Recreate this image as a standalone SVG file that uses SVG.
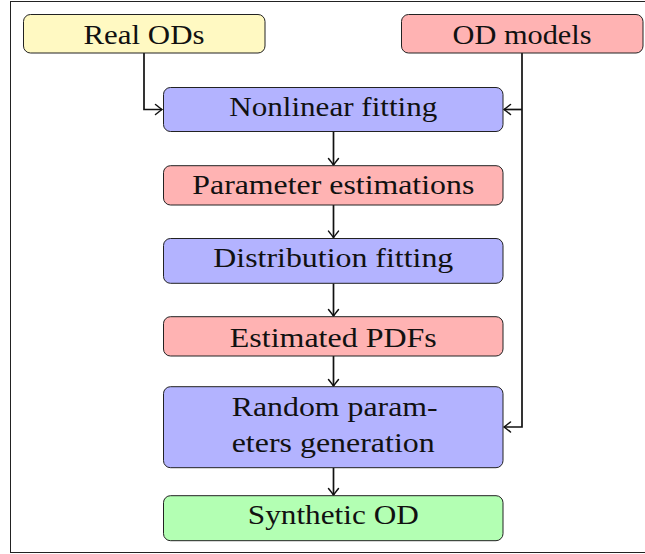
<svg xmlns="http://www.w3.org/2000/svg" width="645" height="554" viewBox="0 0 645 554">
<style>
.box{stroke:#222;stroke-width:1}
.y{fill:#FFF9C2}.r{fill:#FFB3B3}.b{fill:#B3B3FF}.g{fill:#B3FFB3}
.t{fill:#111;font-family:"Liberation Serif","Times New Roman","DejaVu Serif",serif;font-size:27px}
.c{text-anchor:middle}
.con path{fill:none;stroke:#111;stroke-width:1.7}
</style>
<defs>
<marker id="ah" markerUnits="userSpaceOnUse" markerWidth="14" markerHeight="14" viewBox="-8 -7 10 14" refX="0" refY="0" orient="auto">
<path d="M -6.5,-5 Q -1.5,-1 0,0 Q -1.5,1 -6.5,5" fill="none" stroke="#111" stroke-width="1.5" stroke-linecap="round"/>
</marker>
</defs>
<rect x="10.5" y="1.5" width="645" height="551" fill="#fff" stroke="#222" stroke-width="1"/>
<g class="con">
<path d="M144,53 V109.5 H162" marker-end="url(#ah)"/>
<path d="M522,53 V427 H504" marker-end="url(#ah)"/>
<path d="M522,109.5 H504" marker-end="url(#ah)"/>
<path d="M333.5,131.7 V165" marker-end="url(#ah)"/>
<path d="M333.5,205 V237.6" marker-end="url(#ah)"/>
<path d="M333.5,283.3 V316" marker-end="url(#ah)"/>
<path d="M333.5,356 V386" marker-end="url(#ah)"/>
<path d="M333.5,467.7 V495" marker-end="url(#ah)"/>
</g>
<g id="real-ods"><rect class="box y" x="23.5" y="14.5" width="241.5" height="38.5" rx="7"/><text class="t c" x="144" y="44.3" textLength="121" lengthAdjust="spacingAndGlyphs">Real ODs</text></g>
<g id="od-models"><rect class="box r" x="401.5" y="14.5" width="241.5" height="38.5" rx="7"/><text class="t c" x="522" y="44.3" textLength="139" lengthAdjust="spacingAndGlyphs">OD models</text></g>
<g id="nonlinear"><rect class="box b" x="163.5" y="87.5" width="339.5" height="44" rx="7"/><text class="t c" x="333.3" y="116.3" textLength="208" lengthAdjust="spacingAndGlyphs">Nonlinear fitting</text></g>
<g id="param-est"><rect class="box r" x="163.5" y="165.7" width="339.5" height="39.3" rx="7"/><text class="t c" x="333.3" y="194.3" textLength="282" lengthAdjust="spacingAndGlyphs">Parameter estimations</text></g>
<g id="dist-fit"><rect class="box b" x="163.5" y="238.5" width="339.5" height="44.8" rx="7"/><text class="t c" x="333.3" y="267.3" textLength="240" lengthAdjust="spacingAndGlyphs">Distribution fitting</text></g>
<g id="est-pdfs"><rect class="box r" x="163.5" y="316.7" width="339.5" height="39.3" rx="7"/><text class="t c" x="333.3" y="346.7" textLength="207" lengthAdjust="spacingAndGlyphs">Estimated PDFs</text></g>
<g id="random-gen"><rect class="box b" x="163.5" y="386.7" width="339.5" height="81" rx="7"/><text class="t" x="231.7" y="415.7" textLength="206" lengthAdjust="spacingAndGlyphs">Random param-</text><text class="t" x="231.7" y="452.3" textLength="203" lengthAdjust="spacingAndGlyphs">eters generation</text></g>
<g id="synthetic"><rect class="box g" x="163.5" y="495.7" width="339.5" height="45" rx="7"/><text class="t c" x="333.3" y="524.3" textLength="171" lengthAdjust="spacingAndGlyphs">Synthetic OD</text></g>
</svg>
